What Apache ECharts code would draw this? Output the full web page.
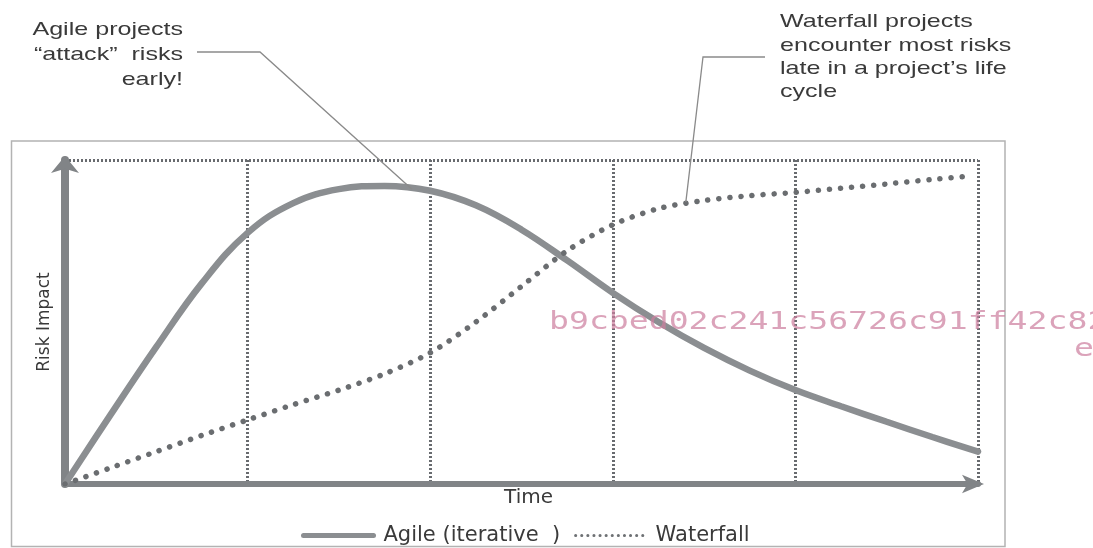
<!DOCTYPE html>
<html>
<head>
<meta charset="utf-8">
<script src="https://cdn.jsdelivr.net/npm/echarts@6/dist/echarts.min.js"></script>
<style>
html,body{margin:0;padding:0;background:#fff;}
#c{width:1093px;height:548px;}
</style>
</head>
<body>
<div id="c"></div>
<script>
// ---- data ----
const agileTime = [0,0.25,0.5,0.75,1,1.25,1.5,1.75,2,2.25,2.5,2.75,3,3.25,3.5,3.75,4,4.25,4.5,4.75,5];
const agileRisk = [0,21.4,42.3,62,77.5,86.7,91,92,90.5,86,78.5,69,59,50,42,35,29,24,19.2,14.5,10];
const waterfallTime = [0,0.25,0.5,0.75,1,1.25,1.5,1.75,2,2.25,2.5,2.75,3,3.25,3.5,3.75,4,4.25,4.5,4.75,4.95];
const waterfallRisk = [0,5,10,15,19.8,24.5,29,34,40.5,50,61,72,80,85,87.5,89,90,91.3,92.6,94,95];
const seriesNames = ['Agile (iterative  )', 'Waterfall'];
const axisNames = ['Time', 'Risk Impact'];
const agileNoteText = 'Agile projects\n\u201cattack\u201d  risks\nearly!';
const waterfallNoteText = 'Waterfall projects\nencounter most risks\nlate in a project\u2019s life\ncycle';
const agileNoteAnchor = [1.9, 91];
const waterfallNoteAnchor = [3.4, 87];
const watermarkLines = ['b9cbed02c241c56726c91ff42c82', 'e'];

function pairs(xs, ys){ return xs.map((x,i)=>[x, ys[i]]); }

const TEXT = '#3a3a3a';
const AXIS = '#818487';
const GRIDC = '#686b6f';

const chart = echarts.init(document.getElementById('c'), null, {renderer:'canvas'});
chart.setOption({
  animation:false,
  backgroundColor:'#ffffff',
  grid:{left:65, right:115, top:160, bottom:64, containLabel:false},
  xAxis:{
    type:'value', min:0, max:5, interval:1,
    name:axisNames[0], nameLocation:'middle', nameGap:4,
    nameTextStyle:{fontFamily:'DejaVu Sans', fontSize:20, color:TEXT, verticalAlign:'top', padding:[0,0,0,14]},
    axisLine:{show:true, onZero:false, symbol:['none','arrow'], symbolSize:[14,22], symbolOffset:[0,6],
      lineStyle:{color:AXIS, width:6}},
    axisTick:{show:false}, axisLabel:{show:false},
    splitLine:{show:true, lineStyle:{color:GRIDC, width:3, type:[2,2]}}
  },
  yAxis:{
    type:'value', min:0, max:100, interval:100,
    name:axisNames[1], nameLocation:'middle', nameGap:12, nameRotate:90,
    nameTextStyle:{fontFamily:'DejaVu Sans', fontSize:17, color:TEXT},
    axisLine:{show:true, onZero:false, symbol:['none','arrow'], symbolSize:[21,17], symbolOffset:[0,4],
      lineStyle:{color:AXIS, width:8}},
    axisTick:{show:false}, axisLabel:{show:false},
    splitLine:{show:true, lineStyle:{color:GRIDC, width:3, type:[2,2]}}
  },
  legend:{
    left:296, top:520, itemWidth:70, itemHeight:18, itemGap:14,
    textStyle:{fontFamily:'DejaVu Sans', fontSize:21, color:TEXT, padding:[0,0,0,5]},
    data:[
      {name:seriesNames[0], itemStyle:{opacity:0}, lineStyle:{color:'#8b8e91', width:5}},
      {name:seriesNames[1], itemStyle:{opacity:0}, lineStyle:{color:'#6e7174', width:3, type:[0.1,6], cap:'round'}}
    ]
  },
  series:[
    {name:seriesNames[0], type:'line', data:pairs(agileTime, agileRisk), smooth:0.4,
      symbol:'none', lineStyle:{color:'#8b8e91', width:6.5, cap:'round'}, z:3},
    {name:seriesNames[1], type:'line', data:pairs(waterfallTime, waterfallRisk), smooth:0.3,
      symbol:'none', lineStyle:{color:'#6a6d70', width:5.5, type:[0.1,11], cap:'round'}, z:4}
  ]
});

const pA = chart.convertToPixel({gridIndex:0}, agileNoteAnchor);
const pW = chart.convertToPixel({gridIndex:0}, waterfallNoteAnchor);
const LEADER = '#8a8a8a';

chart.setOption({
  graphic:[
    {type:'rect', silent:true, z:-10, shape:{x:11.5, y:141, width:993.5, height:405.5},
      style:{fill:'none', stroke:'#b3b3b3', lineWidth:1.5}},
    {type:'text', silent:true, x:183, y:17.5, scaleX:1.32,
      style:{text:agileNoteText, font:'19px "Liberation Sans", Arial, sans-serif', fill:TEXT,
        align:'right', verticalAlign:'top', lineHeight:25}},
    {type:'text', silent:true, x:780, y:10.5, scaleX:1.32,
      style:{text:waterfallNoteText, font:'19px "Liberation Sans", Arial, sans-serif', fill:TEXT,
        align:'left', verticalAlign:'top', lineHeight:23.3}},
    {type:'polyline', silent:true, z:20, shape:{points:[[197,52],[260,52],[pA[0],pA[1]]]},
      style:{stroke:LEADER, lineWidth:1.3, fill:'none'}},
    {type:'polyline', silent:true, z:20, shape:{points:[[765,57],[703,57],[pW[0],pW[1]]]},
      style:{stroke:LEADER, lineWidth:1.3, fill:'none'}},
    {type:'text', silent:true, z:30, x:549, y:323, scaleX:1.38,
      style:{text:watermarkLines[0], font:'24px "DejaVu Sans Mono", monospace', fill:'rgba(205,128,160,0.72)',
        align:'left', verticalAlign:'middle'}},
    {type:'text', silent:true, z:30, x:1074, y:350, scaleX:1.38,
      style:{text:watermarkLines[1], font:'24px "DejaVu Sans Mono", monospace', fill:'rgba(205,128,160,0.72)',
        align:'left', verticalAlign:'middle'}}
  ]
});
</script>
</body>
</html>
